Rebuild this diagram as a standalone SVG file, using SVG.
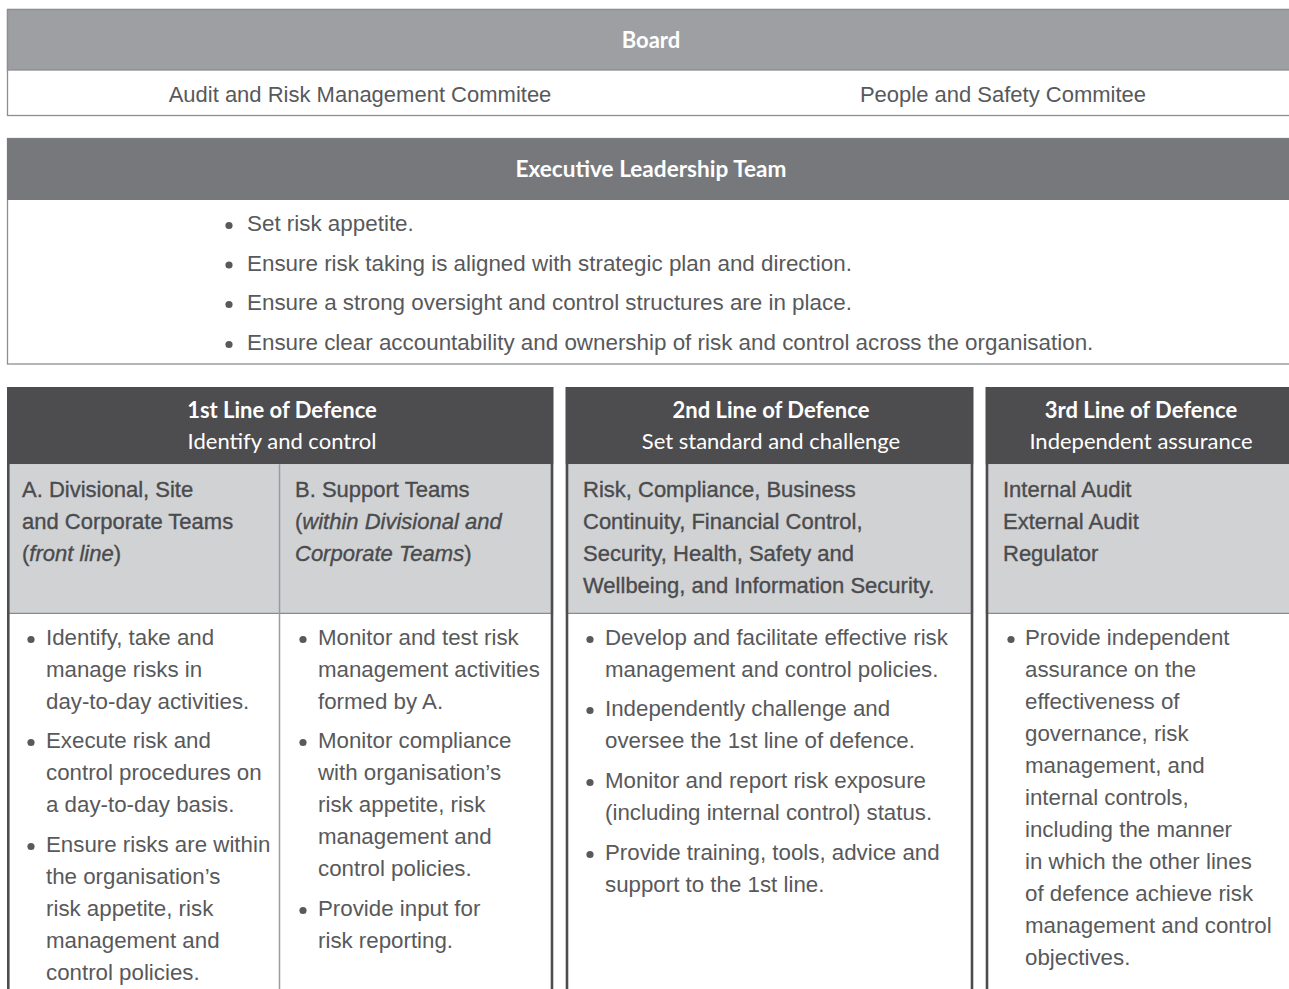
<svg xmlns="http://www.w3.org/2000/svg" width="1289" height="989" viewBox="0 0 1289 989">
  <style>
    .hd { font-family: Lato, "Open Sans", sans-serif; fill: #ffffff; text-anchor: middle; font-size: 22px; }
    .hb { font-weight: 700; }
    .tx { font-family: "Liberation Sans", Arial, sans-serif; font-size: 22.3px; fill: #58595b; }
    .cm { font-size: 22px; }
    .sub { fill: #4a4b4d; stroke: #4a4b4d; stroke-width: 0.35px; font-size: 22px; }
    .it { font-style: italic; }
    .dot { fill: #58595b; }
    .frame { fill: #ffffff; stroke: #8d8e91; stroke-width: 1.3; }
    .colhead { fill: #4d4d4f; }
    .colsub { fill: #d1d2d4; }
    .edge { stroke: #4d4d4f; stroke-width: 2.6; }
    .sep { stroke: #8a8b8e; stroke-width: 1.3; }
    .split { stroke: #9a9b9e; stroke-width: 1.5; }
  </style>

  <!-- Board with its two committees -->
  <g id="board">
    <rect class="frame" x="7.5" y="9.5" width="1300" height="106"/>
    <rect x="7.5" y="9.5" width="1300" height="60.5" fill="#9e9fa3" stroke="#8d8e91" stroke-width="1.3"/>
    <text class="hd hb" x="651" y="48">Board</text>
    <text class="tx cm" x="360" y="102" text-anchor="middle">Audit and Risk Management Commitee</text>
    <text class="tx cm" x="1003" y="102" text-anchor="middle">People and Safety Commitee</text>
  </g>

  <!-- Executive Leadership Team -->
  <g id="executive">
    <rect class="frame" x="7.5" y="138.5" width="1300" height="225.5"/>
    <rect x="7" y="138.3" width="1300" height="61.7" fill="#77787c"/>
    <text class="hd hb" x="651" y="177" style="font-size:22.6px">Executive Leadership Team</text>
    <g class="tx" style="font-size:22.4px">
      <circle class="dot" cx="229" cy="225.5" r="3.6"/>
      <text x="247" y="231">Set risk appetite.</text>
      <circle class="dot" cx="229" cy="265" r="3.6"/>
      <text x="247" y="270.5">Ensure risk taking is aligned with strategic plan and direction.</text>
      <circle class="dot" cx="229" cy="304.5" r="3.6"/>
      <text x="247" y="310">Ensure a strong oversight and control structures are in place.</text>
      <circle class="dot" cx="229" cy="344.5" r="3.6"/>
      <text x="247" y="350">Ensure clear accountability and ownership of risk and control across the organisation.</text>
    </g>
  </g>

  <!-- 1st line of defence -->
  <g id="line1">
    <rect x="7" y="387" width="546.3" height="620" fill="#ffffff"/>
    <rect class="colhead" x="7" y="387" width="546.3" height="77.3"/>
    <rect class="colsub" x="7" y="464.3" width="546.3" height="149"/>
    <line class="sep" x1="7" y1="613.3" x2="553" y2="613.3"/>
    <line class="split" x1="279.5" y1="464.3" x2="279.5" y2="989"/>
    <line class="edge" x1="8.3" y1="387" x2="8.3" y2="989"/>
    <line class="edge" x1="552" y1="387" x2="552" y2="989"/>
    <text class="hd hb" x="282" y="418">1st Line of Defence</text>
    <text class="hd" x="282" y="449">Identify and control</text>

    <g class="tx sub">
      <text x="22" y="497">A. Divisional, Site</text>
      <text x="22" y="529">and Corporate Teams</text>
      <text x="22" y="561">(<tspan class="it">front line</tspan>)</text>
      <text x="295" y="497">B. Support Teams</text>
      <text x="295" y="529">(<tspan class="it">within Divisional and</tspan></text>
      <text x="295" y="561"><tspan class="it">Corporate Teams</tspan>)</text>
    </g>

    <g class="tx">
      <circle class="dot" cx="31" cy="639.5" r="3.6"/>
      <text x="46" y="645">Identify, take and</text>
      <text x="46" y="677">manage risks in</text>
      <text x="46" y="709">day-to-day activities.</text>
      <circle class="dot" cx="31" cy="742.5" r="3.6"/>
      <text x="46" y="748">Execute risk and</text>
      <text x="46" y="780">control procedures on</text>
      <text x="46" y="812">a day-to-day basis.</text>
      <circle class="dot" cx="31" cy="846.5" r="3.6"/>
      <text x="46" y="852">Ensure risks are within</text>
      <text x="46" y="884">the organisation’s</text>
      <text x="46" y="916">risk appetite, risk</text>
      <text x="46" y="948">management and</text>
      <text x="46" y="980">control policies.</text>

      <circle class="dot" cx="303" cy="639.5" r="3.6"/>
      <text x="318" y="645">Monitor and test risk</text>
      <text x="318" y="677">management activities</text>
      <text x="318" y="709">formed by A.</text>
      <circle class="dot" cx="303" cy="742.5" r="3.6"/>
      <text x="318" y="748">Monitor compliance</text>
      <text x="318" y="780">with organisation’s</text>
      <text x="318" y="812">risk appetite, risk</text>
      <text x="318" y="844">management and</text>
      <text x="318" y="876">control policies.</text>
      <circle class="dot" cx="303" cy="910.5" r="3.6"/>
      <text x="318" y="916">Provide input for</text>
      <text x="318" y="948">risk reporting.</text>
    </g>
  </g>

  <!-- 2nd line of defence -->
  <g id="line2">
    <rect x="565.7" y="387" width="407.6" height="620" fill="#ffffff"/>
    <rect class="colhead" x="565.7" y="387" width="407.6" height="77.3"/>
    <rect class="colsub" x="565.7" y="464.3" width="407.6" height="149"/>
    <line class="sep" x1="566" y1="613.3" x2="973" y2="613.3"/>
    <line class="edge" x1="567" y1="387" x2="567" y2="989"/>
    <line class="edge" x1="972" y1="387" x2="972" y2="989"/>
    <text class="hd hb" x="771" y="418">2nd Line of Defence</text>
    <text class="hd" x="771" y="449">Set standard and challenge</text>

    <g class="tx sub">
      <text x="583" y="497">Risk, Compliance, Business</text>
      <text x="583" y="529">Continuity, Financial Control,</text>
      <text x="583" y="561">Security, Health, Safety and</text>
      <text x="583" y="593">Wellbeing, and Information Security.</text>
    </g>

    <g class="tx">
      <circle class="dot" cx="590" cy="639.5" r="3.6"/>
      <text x="605" y="645">Develop and facilitate effective risk</text>
      <text x="605" y="677">management and control policies.</text>
      <circle class="dot" cx="590" cy="710.5" r="3.6"/>
      <text x="605" y="716">Independently challenge and</text>
      <text x="605" y="748">oversee the 1st line of defence.</text>
      <circle class="dot" cx="590" cy="782.5" r="3.6"/>
      <text x="605" y="788">Monitor and report risk exposure</text>
      <text x="605" y="820">(including internal control) status.</text>
      <circle class="dot" cx="590" cy="854.5" r="3.6"/>
      <text x="605" y="860">Provide training, tools, advice and</text>
      <text x="605" y="892">support to the 1st line.</text>
    </g>
  </g>

  <!-- 3rd line of defence -->
  <g id="line3">
    <rect x="985.7" y="387" width="320" height="620" fill="#ffffff"/>
    <rect class="colhead" x="985.7" y="387" width="320" height="77.3"/>
    <rect class="colsub" x="985.7" y="464.3" width="320" height="149"/>
    <line class="sep" x1="986" y1="613.3" x2="1300" y2="613.3"/>
    <line class="edge" x1="987" y1="387" x2="987" y2="989"/>
    <text class="hd hb" x="1141" y="418">3rd Line of Defence</text>
    <text class="hd" x="1141" y="449">Independent assurance</text>

    <g class="tx sub">
      <text x="1003" y="497">Internal Audit</text>
      <text x="1003" y="529">External Audit</text>
      <text x="1003" y="561">Regulator</text>
    </g>

    <g class="tx">
      <circle class="dot" cx="1011" cy="639.5" r="3.6"/>
      <text x="1025" y="645">Provide independent</text>
      <text x="1025" y="677">assurance on the</text>
      <text x="1025" y="709">effectiveness of</text>
      <text x="1025" y="741">governance, risk</text>
      <text x="1025" y="773">management, and</text>
      <text x="1025" y="805">internal controls,</text>
      <text x="1025" y="837">including the manner</text>
      <text x="1025" y="869">in which the other lines</text>
      <text x="1025" y="901">of defence achieve risk</text>
      <text x="1025" y="933">management and control</text>
      <text x="1025" y="965">objectives.</text>
    </g>
  </g>
</svg>
